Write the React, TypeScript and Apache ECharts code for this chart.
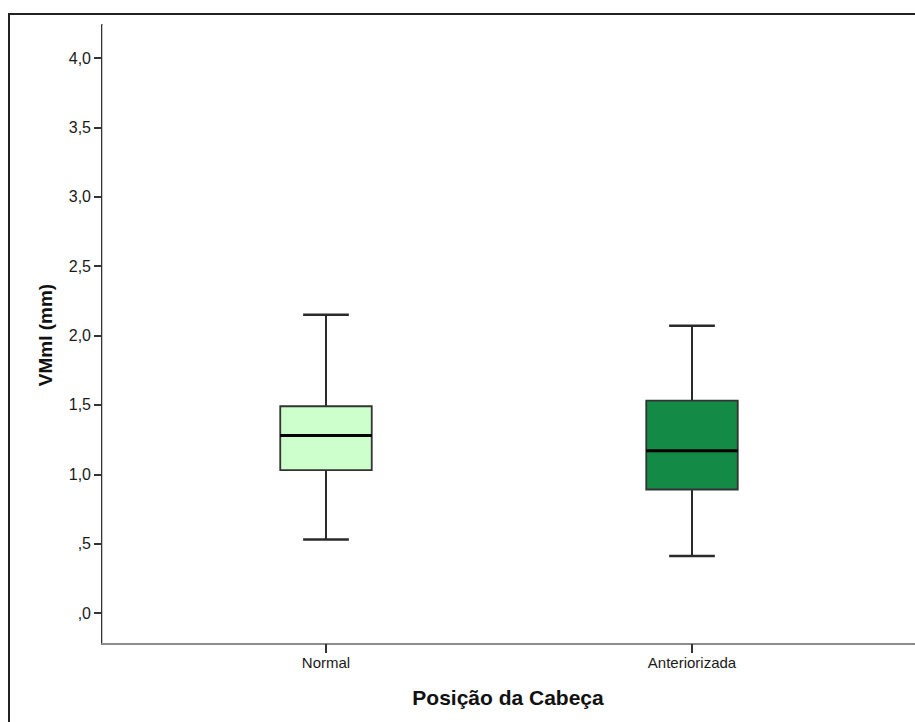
import React, { useEffect, useRef } from "react";
import * as echarts from "echarts";

const categories = ["Normal", "Anteriorizada"];
// [lower whisker, Q1, median, Q3, upper whisker]
const normalBox = [0.53, 1.03, 1.28, 1.49, 2.15];
const anteriorizadaBox = [0.41, 0.89, 1.17, 1.53, 2.07];
const yTicks = { min: 0, max: 4, interval: 0.5 };
const xTitle = "Posição da Cabeça";
const yTitle = "VMml (mm)";

const boxFills = ["#ccffcc", "#138a46"];
const FONT = "'Liberation Sans', Arial, sans-serif";

function fmt(v: number): string {
  return v.toFixed(1).replace(".", ",").replace(/^0/, "");
}

export default function App() {
  const ref = useRef<HTMLDivElement>(null);
  useEffect(() => {
    if (!ref.current) return;
    const chart = echarts.init(ref.current, undefined, { renderer: "svg" });
    const seriesData = [normalBox, anteriorizadaBox].map((b, i) => [i, ...b]);
    const hidden = {
      axisTick: { show: false },
      axisLabel: { show: false },
      splitLine: { show: false },
    };
    chart.setOption({
      animation: false,
      backgroundColor: "#ffffff",
      grid: [
        { left: 102, right: 1, top: 25, bottom: 78 },
        { left: 143, right: 40, top: 58, bottom: 109 },
        { left: 143, right: 40, top: 25, bottom: 78 },
      ],
      xAxis: [
        {
          gridIndex: 0, type: "value", min: 0, max: 1, position: "bottom",
          axisLine: { show: true, lineStyle: { color: "#333", width: 2 } }, ...hidden,
        },
        {
          gridIndex: 0, type: "value", min: 0, max: 1, position: "top",
          axisLine: { show: true, lineStyle: { color: "#8c8c8c", width: 2 } }, ...hidden,
        },
        {
          gridIndex: 1, type: "category", data: categories, boundaryGap: true, show: false,
        },
        {
          gridIndex: 2, type: "category", data: categories, boundaryGap: true,
          position: "bottom",
          axisLine: { show: false },
          axisTick: { show: true, alignWithLabel: true, length: 9, lineStyle: { color: "#333", width: 2 } },
          axisLabel: { show: true, margin: 11, fontSize: 15, color: "#1a1a1a", fontFamily: FONT },
          splitLine: { show: false },
        },
      ],
      yAxis: [
        {
          gridIndex: 0, type: "value", min: 0, max: 1, position: "left",
          axisLine: { show: true, lineStyle: { color: "#333", width: 2 } }, ...hidden,
        },
        {
          gridIndex: 0, type: "value", min: 0, max: 1, position: "right",
          axisLine: { show: true, lineStyle: { color: "#c4c4c4", width: 1 } }, ...hidden,
        },
        {
          gridIndex: 1, type: "value", min: yTicks.min, max: yTicks.max, interval: yTicks.interval,
          position: "left", offset: 41,
          axisLine: { show: false },
          axisTick: { show: true, inside: false, length: 8, lineStyle: { color: "#333", width: 2 } },
          axisLabel: { show: true, margin: 11, fontSize: 16, color: "#1a1a1a", fontFamily: FONT, formatter: fmt },
          splitLine: { show: false },
        },
        {
          gridIndex: 2, type: "value", min: 0, max: 1, show: false,
        },
      ],
      graphic: [
        {
          type: "rect", silent: true,
          shape: { x: 9, y: 14, width: 1000, height: 1000 },
          style: { fill: "none", stroke: "#222", lineWidth: 2 },
        },
        {
          type: "text", x: 45, y: 335, rotation: Math.PI / 2,
          style: {
            text: yTitle, fontSize: 19, fontWeight: "bold", fontFamily: FONT, fill: "#111",
            textAlign: "center", textVerticalAlign: "middle",
          },
        },
        {
          type: "text", x: 508, y: 697,
          style: {
            text: xTitle, fontSize: 21, fontWeight: "bold", fontFamily: FONT, fill: "#111",
            textAlign: "center", textVerticalAlign: "middle",
          },
        },
      ],
      series: [
        {
          type: "custom",
          xAxisIndex: 2,
          yAxisIndex: 2,
          data: seriesData,
          renderItem: (params: any, api: any) => {
            const idx = api.value(0);
            const pLo = api.coord([idx, api.value(1)]);
            const pQ1 = api.coord([idx, api.value(2)]);
            const pMed = api.coord([idx, api.value(3)]);
            const pQ3 = api.coord([idx, api.value(4)]);
            const pHi = api.coord([idx, api.value(5)]);
            const band = api.size([1, 0])[0];
            const bw = band * 0.25;
            const cw = band * 0.125;
            const cx = pLo[0];
            const stroke = "#2a2a2a";
            return {
              type: "group",
              children: [
                { type: "line", shape: { x1: cx, y1: pHi[1], x2: cx, y2: pQ3[1] }, style: { stroke, lineWidth: 2 } },
                { type: "line", shape: { x1: cx, y1: pQ1[1], x2: cx, y2: pLo[1] }, style: { stroke, lineWidth: 2 } },
                { type: "line", shape: { x1: cx - cw / 2, y1: pHi[1], x2: cx + cw / 2, y2: pHi[1] }, style: { stroke, lineWidth: 2.5 } },
                { type: "line", shape: { x1: cx - cw / 2, y1: pLo[1], x2: cx + cw / 2, y2: pLo[1] }, style: { stroke, lineWidth: 2.5 } },
                {
                  type: "rect",
                  shape: { x: cx - bw / 2, y: pQ3[1], width: bw, height: pQ1[1] - pQ3[1] },
                  style: { fill: boxFills[params.dataIndex], stroke: "#333", lineWidth: 1.8 },
                },
                { type: "line", shape: { x1: cx - bw / 2, y1: pMed[1], x2: cx + bw / 2, y2: pMed[1] }, style: { stroke: "#000", lineWidth: 3 } },
              ],
            };
          },
        },
      ],
    });
    return () => chart.dispose();
  }, []);
  return (
    <div
      ref={ref}
      style={{ position: "fixed", left: 0, top: 0, width: 915, height: 722, background: "#fff" }}
    />
  );
}
